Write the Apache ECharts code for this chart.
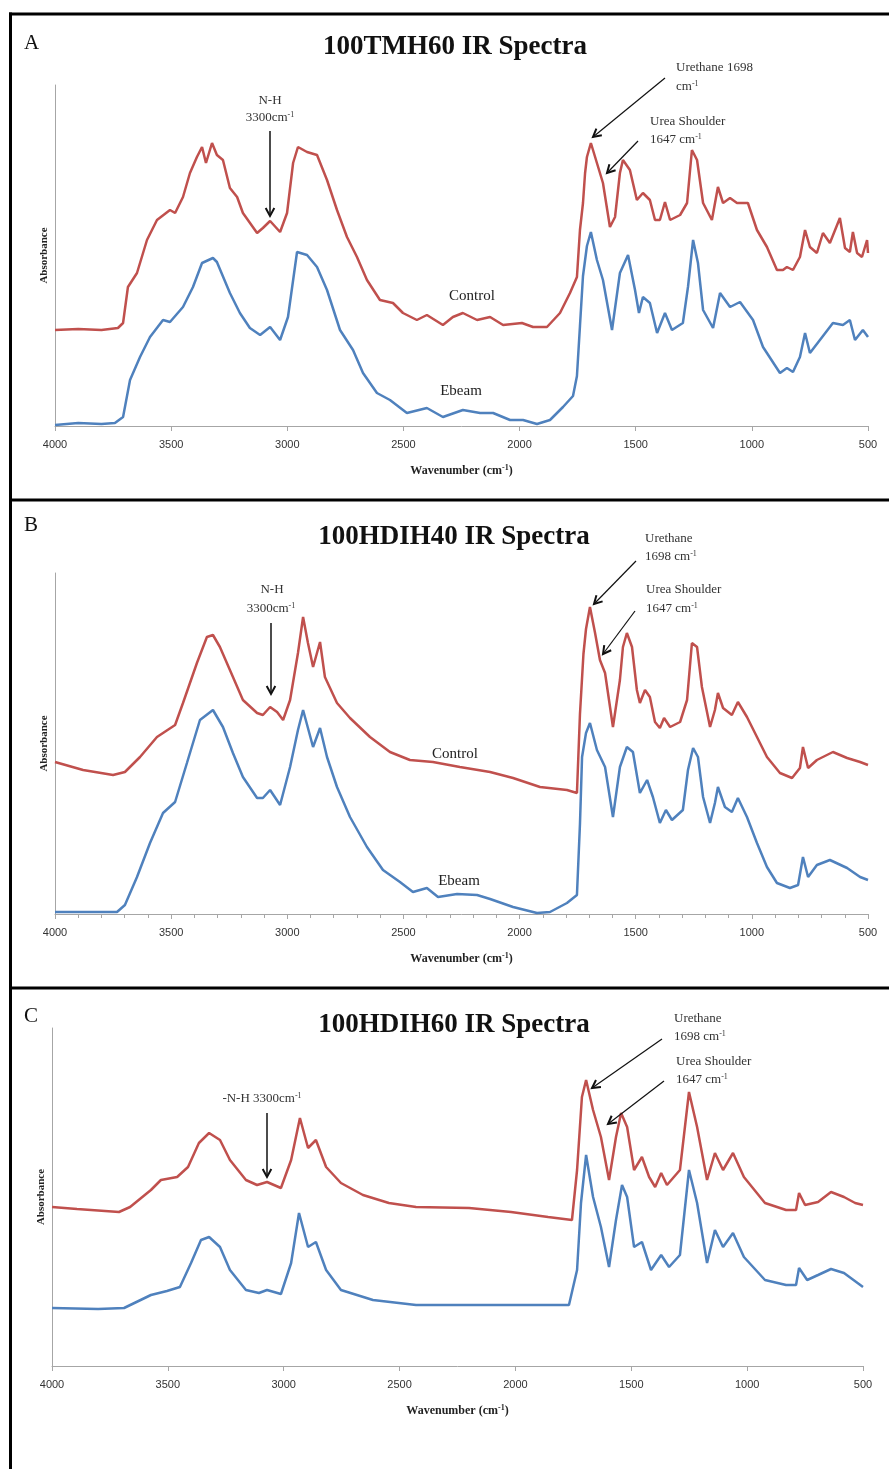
<!DOCTYPE html>
<html>
<head>
<meta charset="utf-8">
<script src="https://cdn.jsdelivr.net/npm/echarts@6/dist/echarts.min.js"></script>
<style>html,body{margin:0;padding:0;background:#fff}#c{width:889px;height:1469px}</style>
</head>
<body>
<div id="c"></div>
<script>
// ---- Data (wavenumber cm-1, absorbance in arbitrary units) ----
const panelTitles = ['100TMH60 IR Spectra', '100HDIH40 IR Spectra', '100HDIH60 IR Spectra'];
const panelLetters = ['A', 'B', 'C'];
const xTicks = [500, 1000, 1500, 2000, 2500, 3000, 3500, 4000];

const aControl = [[4000,96],[3900,97],[3800,96],[3729,98],[3707,103],[3686,139],[3647,153],[3604,186],[3561,206],[3505,216],[3483,213],[3449,229],[3419,253],[3389,269],[3367,279],[3350,263],[3324,283],[3303,271],[3277,266],[3247,238],[3216,229],[3191,213],[3130,193],[3105,198],[3074,205],[3031,194],[3001,213],[2975,263],[2954,279],[2915,274],[2872,271],[2829,246],[2786,216],[2743,189],[2700,169],[2657,146],[2601,126],[2545,123],[2502,113],[2442,106],[2399,111],[2330,101],[2287,109],[2244,113],[2183,106],[2127,109],[2071,101],[1990,103],[1942,99],[1882,99],[1826,113],[1783,133],[1753,149],[1740,196],[1727,223],[1718,253],[1710,269],[1693,283],[1667,263],[1641,243],[1611,199],[1589,209],[1568,253],[1555,266],[1525,256],[1495,226],[1469,233],[1439,226],[1417,206],[1396,206],[1374,224],[1352,206],[1309,211],[1279,223],[1258,276],[1236,266],[1210,223],[1172,206],[1146,239],[1124,223],[1094,228],[1064,223],[1017,223],[978,196],[935,179],[892,156],[866,156],[849,159],[823,156],[793,169],[771,196],[750,179],[720,173],[694,193],[664,183],[621,208],[599,178],[578,174],[565,194],[547,173],[526,169],[504,186],[500,173]];
const aEbeam = [[4000,1],[3900,3],[3800,2],[3742,3],[3707,9],[3677,46],[3634,69],[3591,89],[3535,106],[3505,104],[3449,119],[3406,139],[3367,163],[3320,168],[3303,164],[3247,133],[3204,113],[3161,98],[3117,91],[3074,99],[3031,86],[2997,109],[2958,174],[2915,171],[2872,159],[2829,136],[2773,96],[2717,76],[2674,53],[2614,33],[2558,26],[2485,13],[2399,18],[2330,9],[2244,16],[2170,13],[2114,13],[2041,6],[1985,6],[1925,2],[1869,6],[1813,19],[1770,30],[1753,50],[1740,100],[1727,150],[1710,180],[1693,194],[1667,166],[1641,146],[1602,96],[1568,153],[1533,171],[1503,136],[1486,113],[1469,129],[1439,123],[1408,93],[1374,113],[1344,96],[1297,103],[1275,139],[1253,186],[1232,163],[1210,116],[1167,98],[1137,133],[1094,119],[1051,124],[995,106],[952,79],[879,53],[849,58],[823,54],[793,69],[771,93],[750,73],[707,86],[651,103],[608,101],[578,106],[556,86],[522,96],[500,89]];

const bControl = [[4000,152],[3879,144],[3750,139],[3699,142],[3634,157],[3561,177],[3483,189],[3449,211],[3389,251],[3346,277],[3320,279],[3290,267],[3247,244],[3191,214],[3130,201],[3105,199],[3074,207],[3044,202],[3018,194],[2988,214],[2954,261],[2932,297],[2911,271],[2889,247],[2859,272],[2838,237],[2786,211],[2730,196],[2644,177],[2558,162],[2472,154],[2373,152],[2257,147],[2127,142],[2028,136],[1912,127],[1796,124],[1753,121],[1740,200],[1725,260],[1714,285],[1697,307],[1675,281],[1654,254],[1632,241],[1598,187],[1568,234],[1555,267],[1538,281],[1516,267],[1495,224],[1482,211],[1460,224],[1439,217],[1417,192],[1396,186],[1378,196],[1352,187],[1309,192],[1279,214],[1258,271],[1236,267],[1215,227],[1180,187],[1159,204],[1146,221],[1124,206],[1086,199],[1060,212],[1021,197],[978,177],[935,157],[879,141],[827,136],[793,146],[780,167],[758,146],[720,154],[651,162],[590,156],[534,152],[500,149]];
const bEbeam = [[4000,2],[3733,2],[3699,9],[3647,37],[3591,71],[3535,101],[3483,112],[3432,151],[3376,194],[3320,204],[3277,187],[3234,161],[3191,137],[3130,116],[3105,116],[3074,124],[3031,109],[2988,147],[2954,184],[2932,204],[2889,167],[2859,186],[2829,157],[2786,127],[2730,97],[2657,67],[2588,44],[2515,32],[2459,22],[2399,26],[2351,17],[2269,20],[2183,19],[2127,15],[2028,7],[1925,1],[1869,2],[1796,11],[1753,19],[1740,90],[1731,157],[1714,181],[1697,191],[1667,164],[1632,147],[1598,97],[1568,147],[1538,167],[1512,162],[1482,121],[1451,134],[1426,117],[1396,91],[1370,104],[1344,94],[1297,104],[1275,144],[1253,166],[1232,157],[1210,117],[1180,91],[1159,111],[1146,127],[1116,107],[1086,102],[1060,116],[1021,97],[978,71],[935,47],[892,31],[836,26],[801,29],[780,57],[758,37],[720,49],[664,54],[590,46],[534,37],[500,34]];

const cControl = [[4000,159],[3892,157],[3711,154],[3663,159],[3573,176],[3530,186],[3460,189],[3413,199],[3366,223],[3322,233],[3275,226],[3232,206],[3163,186],[3115,181],[3072,184],[3012,178],[2968,206],[2930,248],[2895,218],[2861,226],[2817,199],[2753,183],[2658,171],[2546,163],[2429,159],[2200,158],[2019,154],[1859,149],[1756,146],[1734,196],[1713,269],[1695,286],[1665,256],[1631,229],[1596,186],[1566,229],[1544,253],[1518,239],[1488,196],[1454,209],[1423,189],[1397,179],[1371,193],[1346,181],[1290,196],[1251,274],[1216,239],[1173,186],[1139,213],[1104,196],[1061,213],[1014,189],[923,163],[832,156],[789,156],[776,173],[750,161],[694,164],[638,174],[582,169],[534,163],[500,161]];
const cEbeam = [[4000,58],[3801,57],[3689,58],[3573,71],[3504,75],[3448,79],[3400,103],[3357,126],[3322,129],[3275,119],[3232,96],[3163,76],[3107,73],[3072,76],[3012,72],[2968,103],[2934,153],[2895,119],[2861,124],[2817,96],[2753,76],[2615,66],[2429,61],[2200,61],[1976,61],[1769,61],[1734,96],[1717,163],[1695,211],[1665,169],[1631,139],[1596,99],[1566,146],[1540,181],[1518,169],[1488,119],[1454,124],[1415,96],[1371,111],[1337,99],[1290,111],[1251,196],[1216,163],[1173,103],[1139,136],[1104,119],[1061,133],[1014,109],[923,86],[832,81],[789,81],[776,98],[741,86],[694,91],[638,97],[582,93],[500,79]];

const yMax = [341, 341, 338];

// ---- Layout ----
const RED = '#C0504D', BLUE = '#4F81BD', AX = '#a6a6a6';
const SERIF = '"Liberation Serif","Times New Roman",serif';
const grids = [
  {left: 55, width: 813, top: 85, height: 341},
  {left: 55, width: 813, top: 573, height: 341},
  {left: 52, width: 811, top: 1028, height: 338}
];
const supRich = {
  b: {fontFamily: SERIF, fontWeight: 'bold', fontSize: 12, color: '#222'},
  s: {fontFamily: SERIF, fontWeight: 'bold', fontSize: 8, color: '#222', padding: [0, 0, 6, 0]}
};
function xAxis(i, minor) {
  return {
    gridIndex: i, type: 'value', min: 500, max: 4000, interval: 500, inverse: true,
    axisLine: {show: true, lineStyle: {color: AX, width: 1}},
    axisTick: {show: true, length: 5, lineStyle: {color: AX}},
    minorTick: {show: !!minor, splitNumber: 5, length: 4, lineStyle: {color: AX}},
    axisLabel: {color: '#333', fontSize: 11, fontFamily: '"Liberation Sans",Arial,sans-serif', margin: 13,
      formatter: (v) => xTicks.indexOf(v) >= 0 ? String(v) : ''},
    splitLine: {show: false},
    name: '{b|Wavenumber (cm}{s|-1}{b|)}', nameLocation: 'middle', nameGap: 38,
    nameTextStyle: {rich: supRich}
  };
}
function yAxis(i) {
  return {
    gridIndex: i, type: 'value', min: 0, max: yMax[i],
    axisLine: {show: true, lineStyle: {color: AX, width: 1}},
    axisTick: {show: false}, axisLabel: {show: false}, splitLine: {show: false},
    name: 'Absorbance', nameLocation: 'middle', nameRotate: 90, nameGap: 5,
    nameTextStyle: {fontFamily: SERIF, fontWeight: 'bold', fontSize: 11, color: '#222'}
  };
}
function line(name, data, color, i) {
  return {name, type: 'line', xAxisIndex: i, yAxisIndex: i, data, showSymbol: false, symbol: 'none',
    lineStyle: {color, width: 2.5}, itemStyle: {color}, animation: false, z: 3};
}

// ---- Annotation helpers ----
const g = [];
function txt(text, x, y, opts) {
  opts = opts || {};
  g.push({type: 'text', x, y, z: 10, style: {
    text, font: (opts.weight || 'normal') + ' ' + (opts.size || 13) + 'px ' + SERIF,
    fill: opts.color || '#333', align: opts.align || 'left', verticalAlign: 'middle',
    rich: {s: {fontSize: 8, fontFamily: SERIF, fill: opts.color || '#333', padding: [0, 0, 6, 0]}}
  }});
}
function arrow(x0, y0, x1, y1, w) {
  w = w || 1.2;
  g.push({type: 'line', z: 10, shape: {x1: x0, y1: y0, x2: x1, y2: y1}, style: {stroke: '#111', lineWidth: w}});
  const dx = x1 - x0, dy = y1 - y0, L = Math.hypot(dx, dy), ux = dx / L, uy = dy / L, h = 9, a = 0.5;
  const p = (s) => [x1 - h * (ux * Math.cos(a) - s * uy * Math.sin(a)), y1 - h * (uy * Math.cos(a) + s * ux * Math.sin(a))];
  g.push({type: 'polyline', z: 10, shape: {points: [p(1), [x1, y1], p(-1)]}, style: {stroke: '#111', lineWidth: 2, fill: null}});
}
function hline(y) { g.push({type: 'line', z: 20, shape: {x1: 9, y1: y, x2: 889, y2: y}, style: {stroke: '#000', lineWidth: 3}}); }

// borders
hline(14); hline(500); hline(988);
g.push({type: 'line', z: 20, shape: {x1: 10.5, y1: 12.5, x2: 10.5, y2: 1469}, style: {stroke: '#000', lineWidth: 3}});

// panel letters & titles
const letterY = [43, 525, 1016], titleY = [47, 537, 1025], titleX = [455, 454, 454];
for (let i = 0; i < 3; i++) {
  txt(panelLetters[i], 24, letterY[i], {size: 21, color: '#111'});
  txt(panelTitles[i], titleX[i], titleY[i], {size: 27, weight: 'bold', color: '#111', align: 'center'});
}
// Panel A annotations
txt('N-H', 270, 101, {align: 'center'});
txt('3300cm{s|-1}', 270, 118, {align: 'center'});
arrow(270, 131, 270, 216, 1.5);
txt('Urethane 1698', 676, 68);
txt('cm{s|-1}', 676, 87);
txt('Urea Shoulder', 650, 122);
txt('1647 cm{s|-1}', 650, 140);
arrow(665, 78, 593, 137);
arrow(638, 141, 607, 173);
txt('Control', 472, 296, {size: 15, color: '#222', align: 'center'});
txt('Ebeam', 461, 391, {size: 15, color: '#222', align: 'center'});
// Panel B annotations
txt('N-H', 272, 590, {align: 'center'});
txt('3300cm{s|-1}', 271, 609, {align: 'center'});
arrow(271, 623, 271, 694, 1.5);
txt('Urethane', 645, 539);
txt('1698 cm{s|-1}', 645, 557);
txt('Urea Shoulder', 646, 590);
txt('1647 cm{s|-1}', 646, 609);
arrow(636, 561, 594, 604);
arrow(635, 611, 603, 654);
txt('Control', 455, 754, {size: 15, color: '#222', align: 'center'});
txt('Ebeam', 459, 881, {size: 15, color: '#222', align: 'center'});
// Panel C annotations
txt('-N-H 3300cm{s|-1}', 262, 1099, {align: 'center'});
arrow(267, 1113, 267, 1177, 1.5);
txt('Urethane', 674, 1019);
txt('1698 cm{s|-1}', 674, 1037);
txt('Urea Shoulder', 676, 1062);
txt('1647 cm{s|-1}', 676, 1080);
arrow(662, 1039, 592, 1088);
arrow(664, 1081, 608, 1124);

const chart = echarts.init(document.getElementById('c'), null, {renderer: 'canvas'});
chart.setOption({
  backgroundColor: '#fff',
  animation: false,
  grid: grids,
  xAxis: [xAxis(0, false), xAxis(1, true), xAxis(2, false)],
  yAxis: [yAxis(0), yAxis(1), yAxis(2)],
  series: [
    line('Control', aControl, RED, 0), line('Ebeam', aEbeam, BLUE, 0),
    line('Control', bControl, RED, 1), line('Ebeam', bEbeam, BLUE, 1),
    line('Control', cControl, RED, 2), line('Ebeam', cEbeam, BLUE, 2)
  ],
  graphic: g
});
</script>
</body>
</html>
